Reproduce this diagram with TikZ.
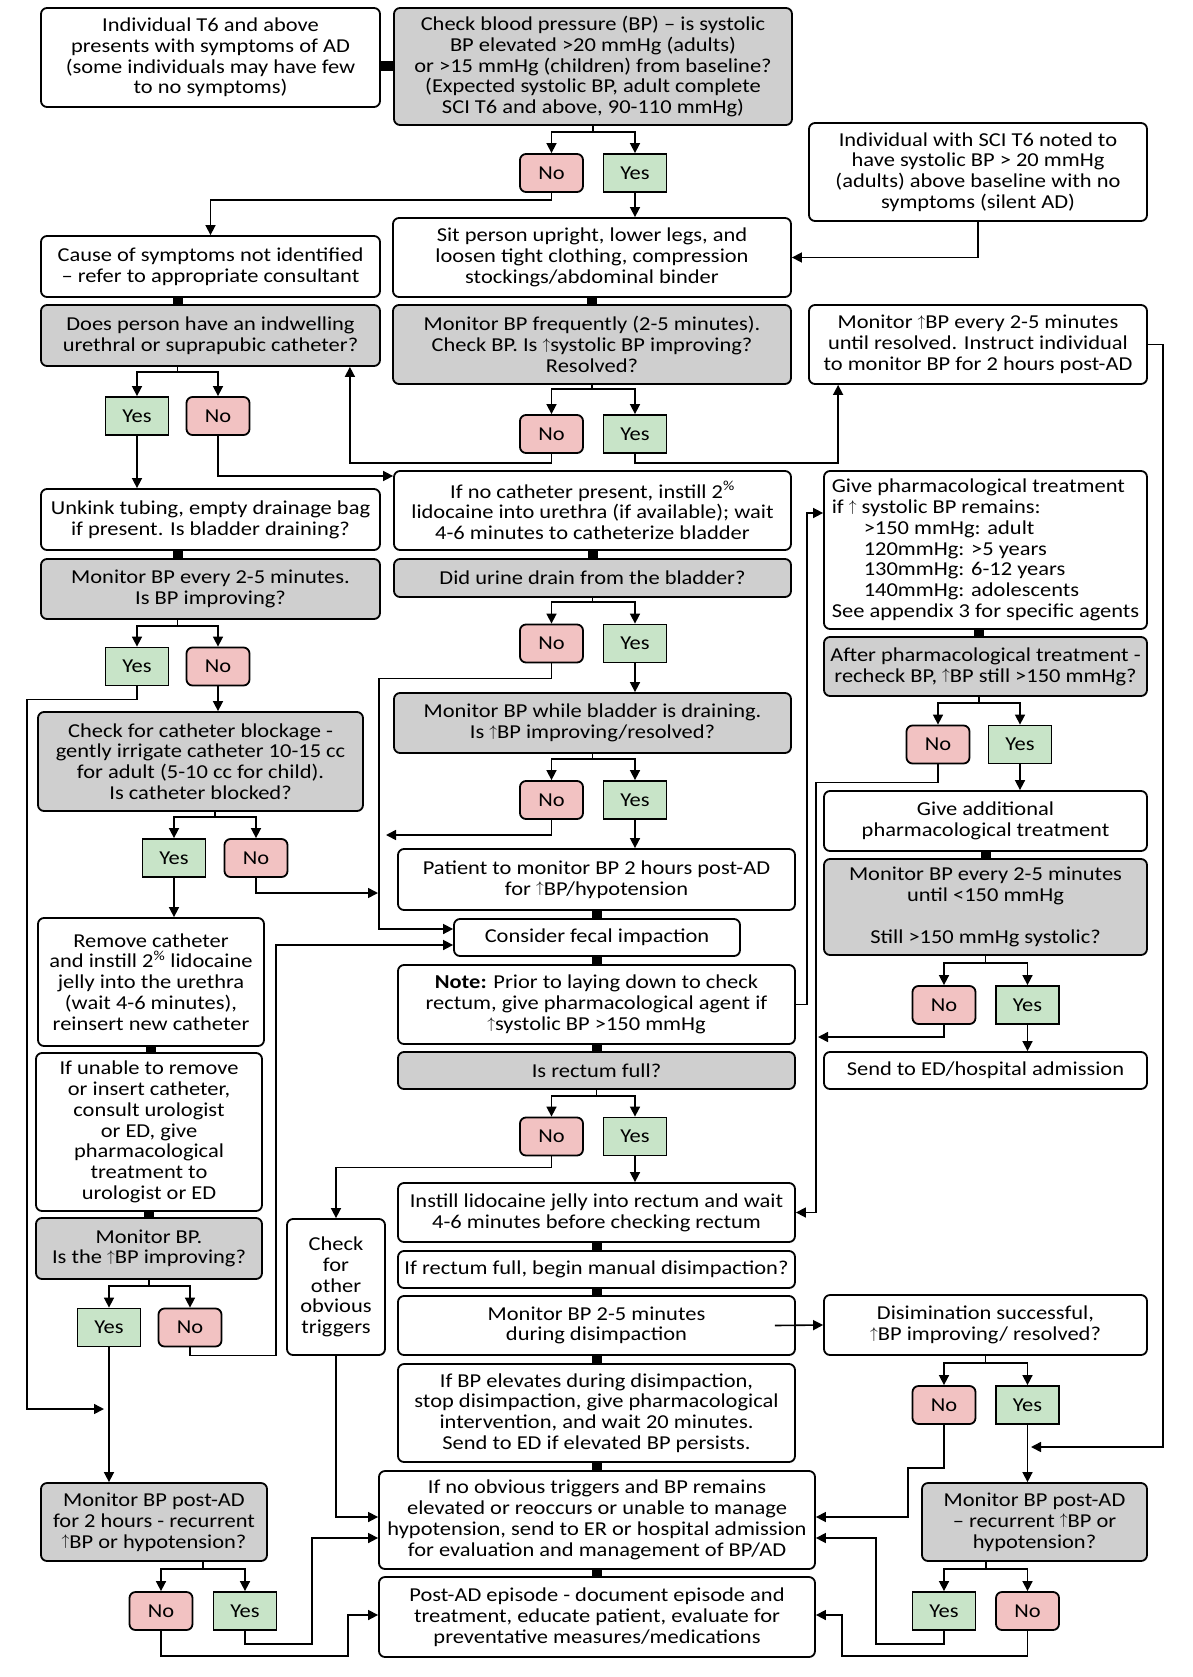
\documentclass[tikz,border=0pt]{standalone}
\usepackage{fontspec}
\setmainfont{Carlito}[FakeStretch=1.14]
\usetikzlibrary{arrows.meta,calc}
\definecolor{qgray}{RGB}{207,207,207}
\definecolor{yesgreen}{RGB}{200,228,200}
\definecolor{nopink}{RGB}{242,194,194}
\newcommand{\arrup}{\raisebox{0.12em}{\scalebox{0.75}{$\uparrow$}}}

\begin{document}
\begin{tikzpicture}[x=1pt, y=-1pt,
	every node/.style={font=\fontsize{19.7}{20.8}\selectfont, align=center, inner sep=0pt},
	box/.style={draw, line width=1.8pt, rounded corners=6pt, fill=white},
	qbox/.style={box, fill=qgray},
	yesbox/.style={draw, line width=1.8pt, fill=yesgreen, minimum width=63pt, minimum height=38pt},
	nobox/.style={draw, line width=1.8pt, rounded corners=6pt, fill=nopink, minimum width=63pt, minimum height=38pt},
	wh/.style 2 args={minimum width=#1pt, minimum height=#2pt},
	arr/.style={line width=1.6pt, -{Triangle[length=10pt,width=10pt]}},
	bar/.style={line width=10pt}]
	\useasboundingbox (0,0) rectangle (1192,1677);
	\node[box, wh={339}{99}] (start) at (210.5,57.5) {Individual T6 and above\\presents with symptoms of AD\\(some individuals may have few\\to no symptoms)};
	\node[qbox, wh={398}{117}] (checkbp) at (593,66.5) {Check blood pressure (BP) – is systolic\\BP elevated >20 mmHg (adults)\\or >15 mmHg (children) from baseline?\\(Expected systolic BP, adult complete\\SCI T6 and above, 90-110 mmHg)};
	\node[nobox] (noBP) at (551.5,173) {No};
	\node[yesbox] (yesBP) at (635,173) {Yes};
	\node[box, wh={338}{98}] (silent) at (978,172) {Individual with SCI T6 noted to\\have systolic BP > 20 mmHg\\(adults) above baseline with no\\symptoms (silent AD)};
	\node[box, wh={339}{61}] (cause) at (210.5,266.5) {Cause of symptoms not identified\\– refer to appropriate consultant};
	\node[box, wh={398}{79}] (sit) at (592,257.5) {Sit person upright, lower legs, and\\loosen tight clothing, compression\\stockings/abdominal binder};
	\node[qbox, wh={339}{61}] (cath) at (210.5,335.5) {Does person have an indwelling\\urethral or suprapubic catheter?};
	\node[qbox, wh={398}{79}] (monfreq) at (592,344.5) {Monitor BP frequently (2-5 minutes).\\Check BP. Is \arrup systolic BP improving?\\Resolved?};
	\node[box, wh={338}{79}] (monup) at (978,344.5) {Monitor \arrup BP every 2-5 minutes\\until resolved. Instruct individual\\to monitor BP for 2 hours post-AD};
	\node[yesbox] (yesCath) at (137,416) {Yes};
	\node[nobox] (noCath) at (218,416) {No};
	\node[nobox] (noRes) at (551.5,434) {No};
	\node[yesbox] (yesRes) at (635,434) {Yes};
	\node[box, wh={339}{61}] (unkink) at (210.5,519.5) {Unkink tubing, empty drainage bag\\if present. Is bladder draining?};
	\node[box, wh={397}{79}] (lido) at (592.5,510.5) {If no catheter present, instill 2\textsuperscript{\%}\\lidocaine into urethra (if available); wait\\4-6 minutes to catheterize bladder};
	\node[box, wh={323}{158}, align=left] (pharm) at (985.5,550) {Give pharmacological treatment\\if \arrup{} systolic BP remains:\\\hspace*{32pt}>150 mmHg: adult\\\hspace*{32pt}120mmHg: >5 years\\\hspace*{32pt}130mmHg: 6-12 years\\\hspace*{32pt}140mmHg: adolescents\\See appendix 3 for specific agents};
	\node[qbox, wh={339}{60}] (monleft) at (210.5,589) {Monitor BP every 2-5 minutes.\\Is BP improving?};
	\node[qbox, wh={397}{38}] (drain) at (592.5,578) {Did urine drain from the bladder?};
	\node[yesbox] (yesImp) at (137,666.5) {Yes};
	\node[nobox] (noImp) at (218,666.5) {No};
	\node[nobox] (noDrain) at (551.5,643.5) {No};
	\node[yesbox] (yesDrain) at (635,643.5) {Yes};
	\node[qbox, wh={323}{59}] (after) at (985.5,666.5) {After pharmacological treatment -\\recheck BP, \arrup BP still >150 mmHg?};
	\node[qbox, wh={325}{99}] (blocked) at (200.5,761.5) {Check for catheter blockage -\\gently irrigate catheter 10-15 cc\\for adult (5-10 cc for child).\\Is catheter blocked?};
	\node[qbox, wh={397}{60}] (whilebp) at (592.5,723) {Monitor BP while bladder is draining.\\Is \arrup BP improving/resolved?};
	\node[nobox] (noAfter) at (938,744.5) {No};
	\node[yesbox] (yesAfter) at (1020,744.5) {Yes};
	\node[nobox] (noWhile) at (551.5,800) {No};
	\node[yesbox] (yesWhile) at (635,800) {Yes};
	\node[box, wh={323}{60}] (addpharm) at (985.5,821) {Give additional\\pharmacological treatment};
	\node[yesbox] (yesBlock) at (174,858) {Yes};
	\node[nobox] (noBlock) at (256,858) {No};
	\node[box, wh={397}{61}] (patient) at (596.5,879.5) {Patient to monitor BP 2 hours post-AD\\for \arrup BP/hypotension};
	\node[qbox, wh={323}{96}] (until) at (985.5,907) {Monitor BP every 2-5 minutes\\until <150 mmHg\\[20.8pt]Still >150 mmHg systolic?};
	\node[box, wh={226}{128}] (remove) at (151,982) {Remove catheter\\and instill 2\textsuperscript{\%} lidocaine\\jelly into the urethra\\(wait 4-6 minutes),\\reinsert new catheter};
	\node[box, wh={286}{37}] (fecal) at (597,937.5) {Consider fecal impaction};
	\node[box, wh={397}{79}] (note) at (596.5,1004.5) {\textbf{Note:} Prior to laying down to check\\rectum, give pharmacological agent if\\\arrup systolic BP >150 mmHg};
	\node[nobox] (noStill) at (944,1005) {No};
	\node[yesbox] (yesStill) at (1027.5,1005) {Yes};
	\node[qbox, wh={397}{37}] (rectum) at (596.5,1070.5) {Is rectum full?};
	\node[box, wh={323}{37}] (send) at (985.5,1070.5) {Send to ED/hospital admission};
	\node[box, wh={226}{158}] (unable) at (149,1132) {If unable to remove\\or insert catheter,\\consult urologist\\or ED, give\\pharmacological\\treatment to\\urologist or ED};
	\node[nobox] (noFull) at (551.5,1136.5) {No};
	\node[yesbox] (yesFull) at (635,1136.5) {Yes};
	\node[box, wh={397}{59}] (instill) at (596.5,1212.5) {Instill lidocaine jelly into rectum and wait\\4-6 minutes before checking rectum};
	\node[box, wh={98}{136}] (other) at (336,1287) {Check\\for\\other\\obvious\\triggers};
	\node[qbox, wh={226}{61}] (monbp) at (149,1248.5) {Monitor BP.\\Is the \arrup BP improving?};
	\node[box, wh={397}{37}] (manual) at (596.5,1269.5) {If rectum full, begin manual disimpaction?};
	\node[box, wh={397}{59}] (mon25) at (596.5,1325.5) {Monitor BP 2-5 minutes\\during disimpaction};
	\node[box, wh={323}{60}] (disim) at (985.5,1325) {Disimination successful,\\\arrup BP improving/ resolved?};
	\node[yesbox] (yesMon) at (109,1327.5) {Yes};
	\node[nobox] (noMon) at (190,1327.5) {No};
	\node[nobox] (noDis) at (944,1405) {No};
	\node[yesbox] (yesDis) at (1027.5,1405) {Yes};
	\node[box, wh={397}{98}] (elevate) at (596.5,1413) {If BP elevates during disimpaction,\\stop disimpaction, give pharmacological\\intervention, and wait 20 minutes.\\Send to ED if elevated BP persists.};
	\node[box, wh={436}{98}] (noobv) at (597,1520) {If no obvious triggers and BP remains\\elevated or reoccurs or unable to manage\\hypotension, send to ER or hospital admission\\for evaluation and management of BP/AD};
	\node[qbox, wh={226}{78}] (postl) at (154,1522) {Monitor BP post-AD\\for 2 hours - recurrent\\\arrup BP or hypotension?};
	\node[qbox, wh={225}{78}] (postr) at (1034.5,1522) {Monitor BP post-AD\\– recurrent \arrup BP or\\hypotension?};
	\node[box, wh={436}{80}] (postad) at (597,1617) {Post-AD episode - document episode and\\treatment, educate patient, evaluate for\\preventative measures/medications};
	\node[nobox] (noPostL) at (161,1611) {No};
	\node[yesbox] (yesPostL) at (245,1611) {Yes};
	\node[yesbox] (yesPostR) at (944,1611) {Yes};
	\node[nobox] (noPostR) at (1027.5,1611) {No};

	\coordinate (fA) at ($(yesCath.north)!.5!(noCath.north)$);
	\coordinate (fB) at ($(yesImp.north)!.5!(noImp.north)$);
	\coordinate (fC) at ($(noAfter.north)!.5!(yesAfter.north)$);
	\coordinate (fD) at ($(yesBlock.north)!.5!(noBlock.north)$);
	\coordinate (fE) at ($(noPostL.north)!.5!(yesPostL.north)$);
	\coordinate (fF) at ($(yesPostR.north)!.5!(noPostR.north)$);
	\coordinate (j1) at (1031,1447);
	\coordinate (j2) at (104,1409);
	\coordinate (j3) at (378,893);
	\coordinate (j4) at (386,835);
	\coordinate (j5) at (818,1037);

	\draw[bar] (checkbp.west) -- (checkbp.west -| start.east);
	\draw[bar] (cause.south -| fA) -- (cath.north -| fA);
	\draw[bar] (sit.south) -- (sit.south |- monfreq.north);
	\draw[bar] (unkink.south -| fB) -- (monleft.north -| fB);
	\draw[bar] (lido.south) -- (lido.south |- drain.north);
	\draw[bar] (pharm.south -| fC) -- (after.north -| fC);
	\draw[bar] (addpharm.south) -- (addpharm.south |- until.north);
	\draw[bar] (patient.south) -- (patient.south |- fecal.north);
	\draw[bar] (fecal.south) -- (fecal.south |- note.north);
	\draw[bar] (note.south) -- (note.south |- rectum.north);
	\draw[bar] (instill.south) -- (instill.south |- manual.north);
	\draw[bar] (manual.south) -- (manual.south |- mon25.north);
	\draw[bar] (mon25.south) -- (mon25.south |- elevate.north);
	\draw[bar] (elevate.south) -- (elevate.south |- noobv.north);
	\draw[bar] (noobv.south) -- (noobv.south |- postad.north);
	\draw[bar] (remove.south) -- (remove.south |- unable.north);
	\draw[bar] (unable.south) -- (unable.south |- monbp.north);

	\draw[arr] (checkbp.south) -- ++(0,6) -| (noBP.north);
	\draw[arr] (checkbp.south) -- ++(0,6) -| (yesBP.north);
	\draw[arr] (cath.south -| fA) -- ++(0,5) -| (yesCath.north);
	\draw[arr] (cath.south -| fA) -- ++(0,5) -| (noCath.north);
	\draw[arr] (monfreq.south) -- ++(0,4) -| (noRes.north);
	\draw[arr] (monfreq.south) -- ++(0,4) -| (yesRes.north);
	\draw[arr] (monleft.south -| fB) -- ++(0,6) -| (yesImp.north);
	\draw[arr] (monleft.south -| fB) -- ++(0,6) -| (noImp.north);
	\draw[arr] (drain.south) -- ++(0,4) -| (noDrain.north);
	\draw[arr] (drain.south) -- ++(0,4) -| (yesDrain.north);
	\draw[arr] (after.south -| fC) -- ++(0,6) -| (noAfter.north);
	\draw[arr] (after.south -| fC) -- ++(0,6) -| (yesAfter.north);
	\draw[arr] (blocked.south -| fD) -- ++(0,5) -| (yesBlock.north);
	\draw[arr] (blocked.south -| fD) -- ++(0,5) -| (noBlock.north);
	\draw[arr] (whilebp.south) -- ++(0,5) -| (noWhile.north);
	\draw[arr] (whilebp.south) -- ++(0,5) -| (yesWhile.north);
	\draw[arr] (until.south) -- ++(0,7) -| (noStill.north);
	\draw[arr] (until.south) -- ++(0,7) -| (yesStill.north);
	\draw[arr] (rectum.south) -- ++(0,6) -| (noFull.north);
	\draw[arr] (rectum.south) -- ++(0,6) -| (yesFull.north);
	\draw[arr] (monbp.south) -- ++(0,6) -| (yesMon.north);
	\draw[arr] (monbp.south) -- ++(0,6) -| (noMon.north);
	\draw[arr] (disim.south) -- ++(0,7) -| (noDis.north);
	\draw[arr] (disim.south) -- ++(0,7) -| (yesDis.north);
	\draw[arr] (postl.south -| fE) -- ++(0,7) -| (noPostL.north);
	\draw[arr] (postl.south -| fE) -- ++(0,7) -| (yesPostL.north);
	\draw[arr] (postr.south -| fF) -- ++(0,7) -| (yesPostR.north);
	\draw[arr] (postr.south -| fF) -- ++(0,7) -| (noPostR.north);

	\draw[arr] (yesBP.south) -- (yesBP.south |- sit.north);
	\draw[arr] (noBP.south) -- ++(0,7) -| (cause.north);
	\draw[arr] (silent.south) |- (sit.east);
	\draw[arr] (noRes.south) -- ++(0,9) -| ([xshift=-31pt]cath.south east);
	\draw[arr] (yesRes.south) -- ++(0,9) -| ([xshift=30pt]monup.south west);
	\draw[arr] (monup.east) -- ++(15,0) |- (j1);
	\draw[arr] (yesCath.south) -- (yesCath.south |- unkink.north);
	\draw[arr] (noCath.south) |- ([yshift=34.5pt]lido.west);
	\draw[arr] (yesImp.south) -- ++(0,13) -| ([xshift=-10pt]blocked.west) |- (j2);
	\draw[arr] (noImp.south) -- (noImp.south |- blocked.north);
	\draw[arr] (yesBlock.south) -- (yesBlock.south |- remove.north);
	\draw[arr] (noBlock.south) |- (j3);
	\draw[arr] (noDrain.south) -- ++(0,15) -| ([xshift=-18pt]patient.west) |- ([yshift=8.5pt]fecal.west);
	\draw[arr] (yesDrain.south) -- (yesDrain.south |- whilebp.north);
	\draw[arr] (noWhile.south) |- (j4);
	\draw[arr] (yesWhile.south) -- (yesWhile.south |- patient.north);
	\draw[arr] (note.east) -- ++(11,0) |- ([yshift=37pt]pharm.west);
	\draw[arr] (noAfter.south) -- ++(0,18) -| ([xshift=20pt]instill.east) -- (instill.east);
	\draw[arr] (yesAfter.south) -- (yesAfter.south |- addpharm.north);
	\draw[arr] (noStill.south) |- (j5);
	\draw[arr] (yesStill.south) -- (yesStill.south |- send.north);
	\draw[arr] (noMon.south) -- ++(0,8) -| ([xshift=11pt]remove.east) |- ([yshift=-7.5pt]fecal.west);
	\draw[arr] (yesMon.south) -- (yesMon.south |- postl.north);
	\draw[arr] (noFull.south) -- ++(0,11) -| (other.north);
	\draw[arr] (yesFull.south) -- (yesFull.south |- instill.north);
	\draw[arr] (other.south) |- ([yshift=3pt]noobv.west);
	\draw[arr] ([xshift=-21pt]mon25.east) -- (disim.west);
	\draw[arr] (noDis.south) -- ++(0,43) -| ([xshift=92pt,yshift=3pt]noobv.east) -- ([yshift=3pt]noobv.east);
	\draw[arr] (yesDis.south) -- (yesDis.south |- postr.north);
	\draw[arr] (yesPostR.south) -- ++(0,13) -| ([xshift=60pt,yshift=-18pt]noobv.east) -- ([yshift=-18pt]noobv.east);
	\draw[arr] (noPostR.south) -- ++(0,25) -| ([xshift=26pt,yshift=2pt]postad.east) -- ([yshift=2pt]postad.east);
	\draw[arr] (yesPostL.south) -- ++(0,13) -| ([xshift=-66pt,yshift=-18pt]noobv.west) -- ([yshift=-18pt]noobv.west);
	\draw[arr] (noPostL.south) -- ++(0,25) -| ([xshift=-30pt,yshift=2pt]postad.west) -- ([yshift=2pt]postad.west);
\end{tikzpicture}
\end{document}
